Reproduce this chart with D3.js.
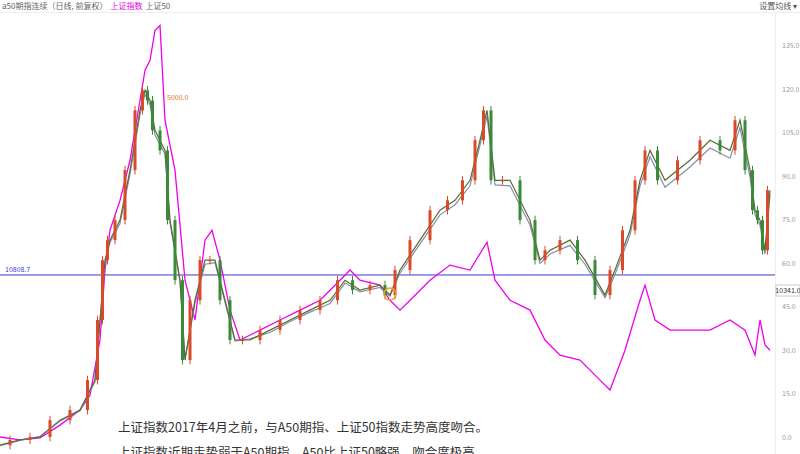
<![CDATA[<!DOCTYPE html>
<html><head><meta charset="utf-8">
<script src="https://cdn.jsdelivr.net/npm/d3@7/dist/d3.min.js"></script>
<style>body{margin:0;background:#fff;font-family:"Noto Sans CJK SC","Noto Sans",sans-serif}</style>
</head><body><svg id="c" width="800" height="454"></svg>
<script>
const yTicks=[0,15,30,45,60,75,90,105,120,135];
const shT=[0,20,40,60,80,90,100,105,110,120,130,140,145,150,155,160,165,175,185,195,205,212,220,230,240,260,280,300,320,340,350,360,380,390,400,410,430,450,470,487,495,510,530,545,560,580,600,610,625,640,645,655,670,690,710,730,745,755,760,765,770];
const shVals=[0,-1.0,-0.3,4.1,9.3,14.4,33.4,57.5,71.2,81.5,95.3,115.9,126.3,129.7,140.0,141.7,109.1,91.9,54.0,40.3,67.8,71.2,60.9,43.7,33.4,36.8,40.3,43.7,47.1,54.0,57.5,54.0,52.3,47.1,43.7,47.1,54.0,59.2,57.5,67.1,54.0,47.1,43.7,33.4,28.2,26.5,19.6,16.2,29.9,47.1,52.3,40.3,36.8,36.8,36.8,40.3,36.8,28.2,40.3,31.7,29.9];
const a50T=[0,20,40,60,80,95,100,105,110,120,130,140,145,150,155,165,170,180,185,195,205,215,225,235,250,270,290,310,330,345,360,380,390,400,420,440,455,470,480,487,495,510,530,540,550,570,585,605,615,630,640,650,665,690,710,730,740,750,755,760,765,770];
const a50Vals=[-2.8,-1.0,0,5.8,9.3,19.6,40.3,60.9,67.8,74.7,91.9,112.5,119.4,115.9,105.6,98.7,74.7,54.0,26.5,47.1,60.9,60.9,47.1,33.4,33.4,36.8,40.3,43.7,47.1,54.0,50.6,52.3,48.9,57.5,67.8,78.1,81.5,88.4,102.2,112.5,88.4,88.4,74.7,60.9,64.3,67.8,60.9,48.9,57.5,71.2,88.4,98.7,88.4,95.3,102.2,98.7,109.1,91.9,78.1,74.7,64.3,85.0];
const sz50Vals=[-3.0,-1.2,0.2,5.5,9.0,19.0,39.5,59.8,67.0,73.5,90.5,111.0,118.0,114.5,104.0,97.5,73.8,53.5,27.0,46.0,59.5,60.0,46.5,33.0,33.8,36.0,39.8,43.0,46.0,53.0,50.0,51.5,48.5,56.5,66.5,76.5,80.0,86.5,100.5,110.5,86.8,86.5,73.0,59.8,63.0,66.0,59.5,48.0,56.0,69.5,86.5,96.5,86.0,93.0,99.5,96.0,106.5,89.5,76.5,73.0,63.0,83.5];
const hLineVal=55.8, lastLabel="10341.0", hLabel="10808.7";

const svg=d3.select("#c");
const x=d3.scaleLinear().domain([0,775]).range([0,775]);
const y=d3.scaleLinear().domain([0,135]).range([437,45]);
// header
svg.append("line").attr("x1",0).attr("x2",800).attr("y1",12.5).attr("y2",12.5).attr("stroke","#eee");
svg.append("line").attr("x1",775.5).attr("x2",775.5).attr("y1",12).attr("y2",454).attr("stroke","#eee");
const hd=svg.append("text").attr("x",2).attr("y",9).attr("font-size",8).attr("fill","#666");
hd.append("tspan").text("a50期指连续（日线, 前复权）");
hd.append("tspan").attr("fill","#e000e0").attr("dx",3).text("上证指数");
hd.append("tspan").attr("dx",3).text("上证50");
svg.append("text").attr("x",797).attr("y",9).attr("text-anchor","end").attr("font-size",8).attr("fill","#555").text("设置均线 ▾");
// axis
svg.append("g").selectAll("text").data(yTicks).join("text")
 .attr("x",782).attr("y",d=>y(d)+3).attr("font-size",7).attr("fill","#999").text(d=>d.toFixed(1));
// horizontal line
svg.append("line").attr("x1",0).attr("x2",775).attr("y1",y(hLineVal)).attr("y2",y(hLineVal)).attr("stroke","#3a3ad0").attr("stroke-width",1);
svg.append("text").attr("x",5).attr("y",y(hLineVal)-3).attr("font-size",7).attr("fill","#3a3ad0").text(hLabel);
// lines
const line=(T,V)=>d3.line().x((d,i)=>x(T[i])).y(d=>y(d)).curve(d3.curveLinear)(V);
svg.append("path").attr("d",line(shT,shVals)).attr("fill","none").attr("stroke","#ee00ee").attr("stroke-width",1.3);
svg.append("path").attr("d",line(a50T,sz50Vals)).attr("fill","none").attr("stroke","#8090a8").attr("stroke-width",1.2);
svg.append("path").attr("d",line(a50T,a50Vals)).attr("fill","none").attr("stroke","#5a6a30").attr("stroke-width",1.2);
// candles
const cg=svg.append("g");
a50Vals.forEach((c,i)=>{
  if(i===0)return;
  const o=a50Vals[i-1], up=c>=o, col=up?"#d84a2a":"#3a8a3a";
  const xm=x((a50T[i]+a50T[i-1])/2);
  const hi=Math.max(o,c)+1.5, lo=Math.min(o,c)-1.5;
  cg.append("line").attr("x1",xm).attr("x2",xm).attr("y1",y(hi)).attr("y2",y(lo)).attr("stroke",col);
  cg.append("rect").attr("x",xm-1.5).attr("width",3).attr("y",y(Math.max(o,c))).attr("height",Math.max(1,Math.abs(y(o)-y(c)))).attr("fill",col);
});
// annotations
svg.append("text").attr("x",167).attr("y",100).attr("font-size",7).attr("fill","#e07020").text("5000.0");
svg.append("circle").attr("cx",390).attr("cy",294).attr("r",6).attr("fill","none").attr("stroke","#f0a020").attr("stroke-width",1.5);
svg.append("rect").attr("x",776).attr("y",285).attr("width",24).attr("height",11).attr("fill","#fff").attr("stroke","#ccc");
svg.append("text").attr("x",788).attr("y",293).attr("text-anchor","middle").attr("font-size",7).attr("fill","#333").text(lastLabel);
// bottom text
svg.append("text").attr("x",118).attr("y",432).attr("font-size",12.5).attr("fill","#333").text("上证指数2017年4月之前，与A50期指、上证50指数走势高度吻合。");
svg.append("text").attr("x",118).attr("y",457).attr("font-size",12.5).attr("fill","#333").text("上证指数近期走势弱于A50期指，A50比上证50略强，吻合度极高。");
</script></body></html>]]>
